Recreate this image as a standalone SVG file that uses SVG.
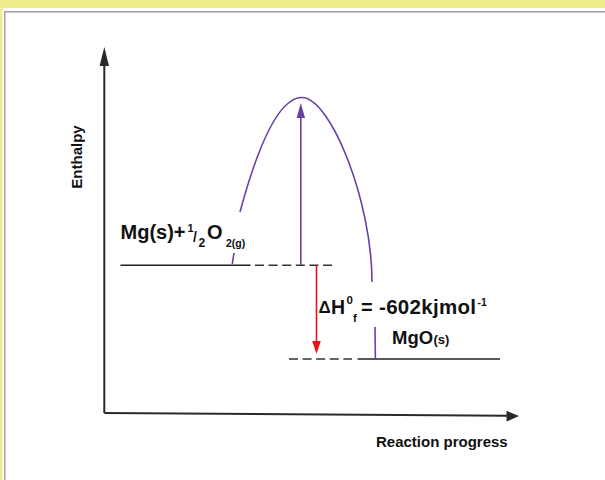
<svg xmlns="http://www.w3.org/2000/svg" width="605" height="480" viewBox="0 0 605 480">
  <defs>
    <style>
      .axis { stroke: #2a2a2a; stroke-width: 2; fill: none; }
      .level { stroke: #222; stroke-width: 1.6; fill: none; }
      .dash { stroke: #333; stroke-width: 1.6; fill: none; stroke-dasharray: 9 4.6; }
      .curve { stroke: #6a3fa6; stroke-width: 1.6; fill: none; }
      .t { font-family: "Liberation Sans", Arial, sans-serif; font-weight: bold; fill: #111; }
    </style>
  </defs>
  <rect x="0" y="0" width="605" height="480" fill="#eded8b"/>
  <rect x="2.5" y="8" width="610" height="480" fill="#ffffff"/>
  <rect x="4.8" y="11.8" width="700" height="500" fill="none" stroke="#999" stroke-width="1.4"/>

  <g id="axes">
    <path class="axis" d="M104.3,413 L104.3,62"/>
    <polygon points="104.3,47 99.6,66 109,66" fill="#2a2a2a"/>
    <path class="axis" d="M104.3,413 L508,415.7"/>
    <polygon points="519,416 506.5,410.8 506.5,421.6" fill="#2a2a2a"/>
  </g>

  <g id="connectors">
    <g id="reactant-level">
      <path class="level" d="M120.5,265.3 L250.5,265.3"/>
      <path class="dash" d="M255,265.3 L334,265.3"/>
    </g>
    <g id="product-level">
      <path class="dash" d="M289,359 L352,359"/>
      <path class="level" d="M357.5,359 L500,359"/>
    </g>
    <g id="energy-curve">
      <path class="curve" d="M232.3,264 L234,253"/>
      <path class="curve" d="M240,212 Q271,97.5 302,97.5 C330,97.5 372,200 372,282"/>
      <path class="curve" d="M375,327 L375.4,359"/>
    </g>
    <g id="activation-arrow">
      <path class="curve" d="M300.8,265 L300.8,115"/>
      <polygon points="300.8,103 296.6,118 305,118" fill="#6a3fa6"/>
    </g>
    <g id="enthalpy-arrow">
      <path d="M316.5,266 L316.5,343" stroke="#e8141b" stroke-width="1.6" fill="none"/>
      <polygon points="316.5,354 312.2,341 320.8,341" fill="#e8141b"/>
    </g>
  </g>

  <g id="label-enthalpy">
    <text class="t" font-size="15" transform="translate(82,157) rotate(-90)" text-anchor="middle">Enthalpy</text>
  </g>
  <g id="label-progress">
    <text class="t" font-size="15" x="376" y="446.5">Reaction progress</text>
  </g>
  <g id="label-reactants">
    <text class="t" font-size="20" x="120.5" y="238.5">Mg(s)+</text>
    <text class="t" font-size="11" x="187.5" y="232">1</text>
    <text class="t" font-size="14" font-weight="normal" x="193" y="242">/</text>
    <text class="t" font-size="12" x="198.5" y="246.5">2</text>
    <text class="t" font-size="20" x="207" y="238.5">O</text>
    <text class="t" font-size="10.5" x="226" y="246.5">2(g)</text>
  </g>
  <g id="label-deltaH">
    <text class="t" font-size="17" font-weight="normal" x="318.5" y="313">Δ</text>
    <text class="t" font-size="19.5" x="331" y="313.5">H</text>
    <text class="t" font-size="11.5" x="346.5" y="304">0</text>
    <text class="t" font-size="11.5" x="353" y="321.5">f</text>
    <text class="t" font-size="20" x="361" y="313.5">=</text>
    <text class="t" font-size="20.5" x="379" y="313.5" textLength="97">-602kjmol</text>
    <text class="t" font-size="10.5" x="477.5" y="306">-1</text>
  </g>
  <g id="label-product">
    <text class="t" font-size="18.5" x="392" y="343.5">MgO</text>
    <text class="t" font-size="13" x="433.5" y="343.5">(s)</text>
  </g>
</svg>
